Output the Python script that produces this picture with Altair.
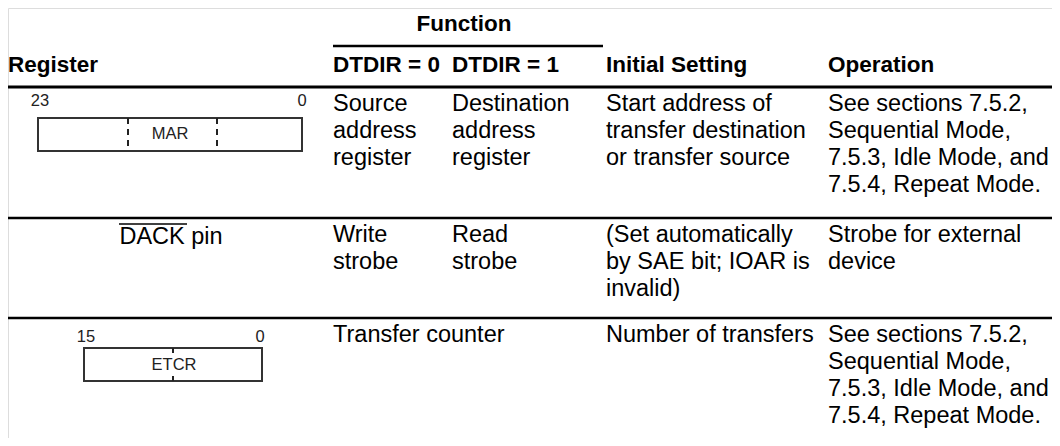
import altair as alt
import pandas as pd

# ---------------- data ----------------
FONT = "Liberation Sans"

# header texts
header_labels = ["Register", "DTDIR = 0", "DTDIR = 1", "Initial Setting", "Operation"]
header_x = [8, 333, 452, 606, 828]
header_y = 65
function_label = "Function"
function_x = 464
function_y = 24

# horizontal rules (y, x_start, x_end, width)
rule_y = [46, 87, 218, 318]
rule_x1 = [333, 6, 6, 6]
rule_x2 = [603, 1060, 1060, 1060]
rule_w = [2.5, 3, 2.5, 2.5]

# body rows: top y of each row, and the lines of each cell (columns 1..4)
row_tops = [87, 218, 318]
col_x = [333, 452, 606, 828]
cells = [
    [["Source", "address", "register"],
     ["Destination", "address", "register"],
     ["Start address of", "transfer destination", "or transfer source"],
     ["See sections 7.5.2,", "Sequential Mode,", "7.5.3, Idle Mode, and", "7.5.4, Repeat Mode."]],
    [["Write", "strobe"],
     ["Read", "strobe"],
     ["(Set automatically", "by SAE bit; IOAR is", "invalid)"],
     ["Strobe for external", "device"]],
    [["Transfer counter"],
     [],
     ["Number of transfers"],
     ["See sections 7.5.2,", "Sequential Mode,", "7.5.3, Idle Mode, and", "7.5.4, Repeat Mode."]],
]
first_line_offset = 17
line_height = 27

# register diagrams
box_names = ["MAR", "ETCR"]
box_x1 = [38, 84]
box_x2 = [302, 262]
box_y1 = [118, 348]
box_y2 = [151, 381]
box_label_x = [170, 174]
box_label_y = [134, 365]
bit_hi = ["23", "15"]
bit_lo = ["0", "0"]
bit_hi_x = [40, 86]
bit_lo_x = [302, 260]
bit_y = [101, 337]

# dashed separators inside MAR
dash_x = [128, 217]
dash_y1 = 118
dash_y2 = 151
# ETCR mid ticks (x, y1, y2)
tick_x = [173, 173]
tick_y1 = [348, 376]
tick_y2 = [353, 381]

# DACK pin row
dack_text = "DACK pin"
dack_x = 171
dack_y = 237
overline_x1 = 119
overline_x2 = 187
overline_y = 224

# ---------------- build tables ----------------
W, H = 1044, 430
xs = alt.Scale(domain=[8, 8 + W], range=[0, W])
ys = alt.Scale(domain=[8, 8 + H], range=[0, H])

def X(f="x"):
    return alt.X(f"{f}:Q", scale=xs, axis=None)

def Y(f="y"):
    return alt.Y(f"{f}:Q", scale=ys, axis=None)

headers = pd.DataFrame({"t": header_labels, "x": header_x, "y": [header_y] * len(header_x)})
func = pd.DataFrame({"t": [function_label], "x": [function_x], "y": [function_y]})

rules = pd.DataFrame({"y": rule_y, "x": rule_x1, "x2": rule_x2, "w": rule_w})

body_rows = []
for r, top in enumerate(row_tops):
    for c, lines in enumerate(cells[r]):
        for i, ln in enumerate(lines):
            body_rows.append({"t": ln, "x": col_x[c], "y": top + first_line_offset + i * line_height})
body = pd.DataFrame(body_rows)

boxes = pd.DataFrame({"x": box_x1, "x2": box_x2, "y": box_y1, "y2": box_y2})
box_labels = pd.DataFrame({"t": box_names, "x": box_label_x, "y": box_label_y})
bits = pd.DataFrame({"t": bit_hi + bit_lo, "x": bit_hi_x + bit_lo_x, "y": bit_y + bit_y})
dashes = pd.DataFrame({"x": dash_x, "y": [dash_y1] * 2, "y2": [dash_y2] * 2})
ticks = pd.DataFrame({"x": tick_x, "y": tick_y1, "y2": tick_y2})
dack = pd.DataFrame({"t": [dack_text], "x": [dack_x], "y": [dack_y]})
overline = pd.DataFrame({"x": [overline_x1], "x2": [overline_x2], "y": [overline_y]})

# ---------------- layers ----------------
header_layer = alt.Chart(headers).mark_text(
    font=FONT, fontSize=22.5, fontWeight="bold", align="left", baseline="middle", color="black"
).encode(x=X(), y=Y(), text="t:N")

func_layer = alt.Chart(func).mark_text(
    font=FONT, fontSize=22.5, fontWeight="bold", align="center", baseline="middle", color="black"
).encode(x=X(), y=Y(), text="t:N")

rule_layer = alt.Chart(rules).mark_rule(color="black").encode(
    x=X(), x2="x2:Q", y=Y(), strokeWidth=alt.StrokeWidth("w:Q", scale=None, legend=None)
)

body_layer = alt.Chart(body).mark_text(
    font=FONT, fontSize=23.5, align="left", baseline="middle", color="black"
).encode(x=X(), y=Y(), text="t:N")

box_layer = alt.Chart(boxes).mark_rect(
    fill="white", stroke="#333333", strokeWidth=2
).encode(x=X(), x2="x2:Q", y=Y(), y2="y2:Q")

dash_layer = alt.Chart(dashes).mark_rule(
    color="#222222", strokeWidth=2, strokeDash=[6, 5]
).encode(x=X(), y=Y(), y2="y2:Q")

tick_layer = alt.Chart(ticks).mark_rule(color="#222222", strokeWidth=2).encode(
    x=X(), y=Y(), y2="y2:Q"
)

box_label_layer = alt.Chart(box_labels).mark_text(
    font=FONT, fontSize=16.5, align="center", baseline="middle", color="#222222"
).encode(x=X(), y=Y(), text="t:N")

bits_layer = alt.Chart(bits).mark_text(
    font=FONT, fontSize=16.5, align="center", baseline="middle", color="#222222"
).encode(x=X(), y=Y(), text="t:N")

dack_layer = alt.Chart(dack).mark_text(
    font=FONT, fontSize=23.5, align="center", baseline="middle", color="black"
).encode(x=X(), y=Y(), text="t:N")

overline_layer = alt.Chart(overline).mark_rule(color="black", strokeWidth=1.5).encode(
    x=X(), x2="x2:Q", y=Y()
)

chart = alt.layer(
    rule_layer, header_layer, func_layer, body_layer,
    box_layer, dash_layer, tick_layer, box_label_layer, bits_layer,
    dack_layer, overline_layer,
).properties(
    width=W, height=H, padding=0, autosize=alt.AutoSizeParams(type="none")
).configure_view(stroke="transparent", strokeWidth=0).configure(background="white")

chart.save("out.html", embed_options={"renderer": "svg", "actions": False})
